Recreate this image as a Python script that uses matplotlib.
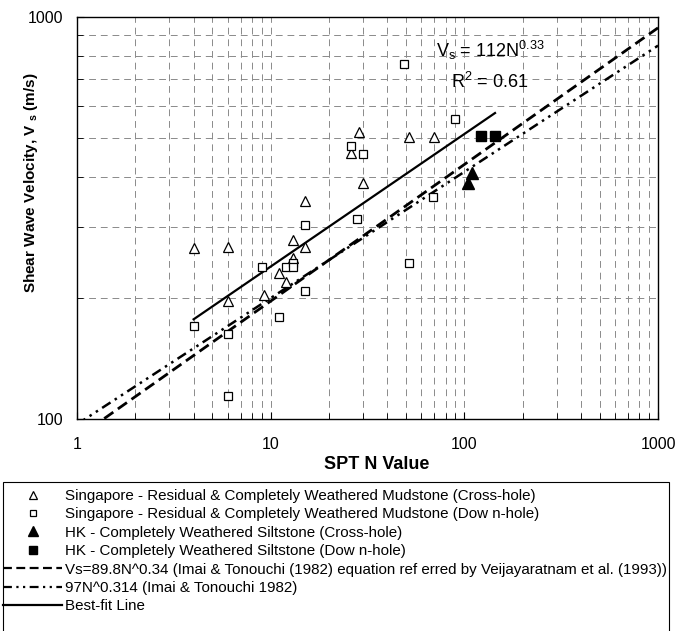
import matplotlib

matplotlib.use("Agg")
import matplotlib.pyplot as plt
from matplotlib.lines import Line2D
from matplotlib.patches import Rectangle
from matplotlib.ticker import FixedLocator, NullFormatter

plt.rcParams["font.family"] = ["Liberation Sans", "DejaVu Sans"]
plt.rcParams["mathtext.fontset"] = "custom"
plt.rcParams["mathtext.rm"] = "Liberation Sans"
plt.rcParams["mathtext.bf"] = "Liberation Sans:bold"

# Singapore - residual & completely weathered mudstone
sg_cross_n = [4, 6, 6, 9.2, 11, 12, 13, 13, 15, 15, 26, 28.5, 30, 52, 70]
sg_cross_v = [266, 268, 197, 203, 231, 219, 279, 251, 268, 349, 458, 517, 387, 504, 504]
sg_down_n = [4, 6, 6, 9, 11, 12, 13, 13, 15, 15, 26, 28, 30, 49, 52, 69, 90]
sg_down_v = [170, 163, 114, 239, 179, 239, 245, 239, 304, 208, 478, 314, 455, 764, 245, 357, 558]

# HK - completely weathered siltstone
hk_cross_n = [105, 110]
hk_cross_v = [387, 409]
hk_down_n = [122, 144]
hk_down_v = [506, 506]

# correlation lines (end points, straight on log-log axes)
imai_veij_n = [1, 1000]
imai_veij_v = [89.8, 940]
imai_n = [1, 1000]
imai_v = [97, 849]
fit_n = [4, 144]
fit_v = [177, 577]

fig = plt.figure(figsize=(6.79, 6.31), dpi=100)
ax = fig.add_axes([0.1134, 0.336, 0.8557, 0.637])

ax.plot(imai_veij_n, imai_veij_v, color="black", lw=2.0, ls=(0, (4, 2)))
ax.plot(imai_n, imai_v, color="black", lw=1.8, ls=(0, (4, 2, 1, 2, 1, 2)))
ax.plot(fit_n, fit_v, color="black", lw=1.6)

ax.plot(sg_cross_n, sg_cross_v, ls="none", marker="^", ms=6.5, mfc="white", mec="black", mew=0.9)
ax.plot(sg_down_n, sg_down_v, ls="none", marker="s", ms=5.5, mfc="white", mec="black", mew=0.9)
ax.plot(hk_cross_n, hk_cross_v, ls="none", marker="^", ms=8, color="black")
ax.plot(hk_down_n, hk_down_v, ls="none", marker="s", ms=6.5, color="black")

ax.set_xscale("log")
ax.set_yscale("log")
ax.set_xlim(1, 1000)
ax.set_ylim(100, 1000)

ax.xaxis.set_major_locator(FixedLocator([1, 10, 100, 1000]))
ax.set_xticklabels(["1", "10", "100", "1000"])
ax.yaxis.set_major_locator(FixedLocator([100, 1000]))
ax.set_yticklabels(["100", "1000"])
ax.xaxis.set_minor_formatter(NullFormatter())
ax.yaxis.set_minor_formatter(NullFormatter())
ax.tick_params(which="both", direction="in", top=False, right=False, labelsize=11.5)
ax.tick_params(axis="x", which="both", pad=13)
ax.tick_params(axis="y", which="both", pad=10)
ax.tick_params(which="major", length=5)
ax.tick_params(which="minor", length=4)

ax.grid(which="both", color="#8a8a8a", lw=0.7, ls=(0, (7, 5)))
for s in ax.spines.values():
    s.set_linewidth(1.0)

ax.set_xlabel("SPT N Value", fontsize=13, fontweight="bold")
ax.xaxis.set_label_coords(0.5155, -0.092)
ax.set_ylabel(r"Shear Wave Velocity, V $_{\mathbf{s}}$ (m/s)", fontsize=11, fontweight="bold")
ax.yaxis.set_label_coords(-0.063, 0.587)

ax.text(0.711, 0.918, r"V$_\mathrm{s}$ = 112N$^{0.33}$", transform=ax.transAxes,
        fontsize=13, ha="center", va="center")
ax.text(0.711, 0.838, r"R$^2$ = 0.61", transform=ax.transAxes,
        fontsize=13, ha="center", va="center")

# legend box (runs off the bottom of the figure like the original)
fig.patches.append(Rectangle((3 / 679, -0.05), 666 / 679, (631 - 482) / 631 + 0.05,
                             transform=fig.transFigure, fill=False, ec="black", lw=0.8))

handles = [
    Line2D([], [], ls="none", marker="^", ms=6, mfc="white", mec="black", mew=0.9),
    Line2D([], [], ls="none", marker="s", ms=5, mfc="white", mec="black", mew=0.9),
    Line2D([], [], ls="none", marker="^", ms=6.5, color="black"),
    Line2D([], [], ls="none", marker="s", ms=5.5, color="black"),
    Line2D([], [], color="black", lw=1.6, ls=(0, (4, 2))),
    Line2D([], [], color="black", lw=1.6, ls=(0, (4, 2, 1, 2, 1, 2))),
    Line2D([], [], color="black", lw=1.6),
]
labels = [
    "Singapore - Residual & Completely Weathered Mudstone (Cross-hole)",
    "Singapore - Residual & Completely Weathered Mudstone (Dow n-hole)",
    "HK - Completely Weathered Siltstone (Cross-hole)",
    "HK - Completely Weathered Siltstone (Dow n-hole)",
    "Vs=89.8N^0.34 (Imai & Tonouchi (1982) equation ref erred by Veijayaratnam et al. (1993))",
    "97N^0.314 (Imai & Tonouchi 1982)",
    "Best-fit Line",
]
fig.legend(handles, labels, loc="upper left", bbox_to_anchor=(3 / 679, 1 - 489 / 631),
           frameon=False, fontsize=10.9, handlelength=3.9, handletextpad=0.2,
           labelspacing=0.29, borderpad=0.0, borderaxespad=0.0)

fig.savefig("out.png", dpi=100)
